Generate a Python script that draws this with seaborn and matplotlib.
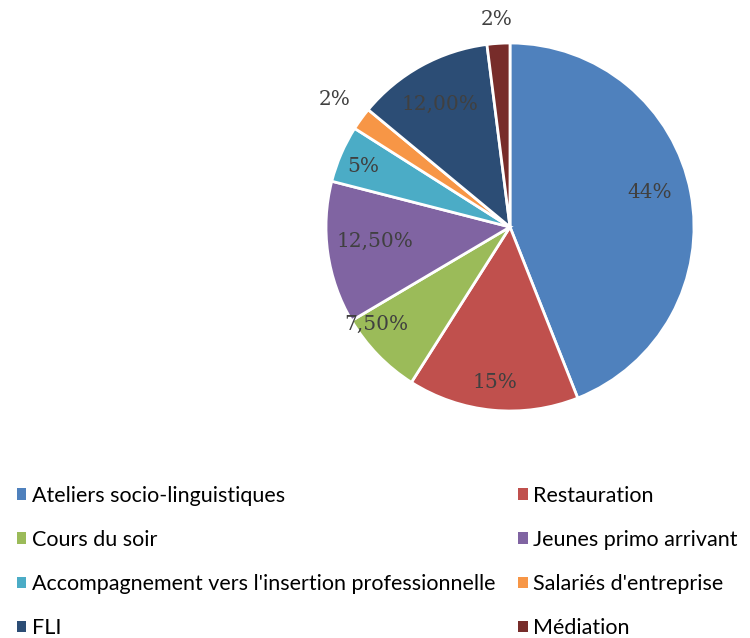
import numpy as np
import matplotlib
matplotlib.use("Agg")
import matplotlib.pyplot as plt
import seaborn as sns
from matplotlib.patches import Patch

categories = ["Ateliers socio-linguistiques", "Restauration", "Cours du soir",
              "Jeunes primo arrivant", "Accompagnement vers l'insertion professionnelle",
              "Salariés d'entreprise", "FLI", "Médiation"]
values = [44, 15, 7.5, 12.5, 5, 2, 12, 2]
value_labels = ["44%", "15%", "7,50%", "12,50%", "5%", "2%", "12,00%", "2%"]
colors = ["#4F81BD", "#C0504D", "#9BBB59", "#8064A2", "#4BACC6", "#F79646", "#2C4D75", "#772C2A"]

# label placement (distance from centre, as fraction of radius)
label_dist = [0.78, 0.85, 0.9, 0.74, 0.86, 1.18, 0.77, 1.13]
label_shift = [3, 0, -8, -2, 1, 0, 1, 0]   # degrees

sns.set_theme(style="white")
plt.rcParams['font.family'] = ['Lato', 'DejaVu Sans']

fig = plt.figure(figsize=(7.5, 6.38), dpi=100)
W, H = 750, 638
cx, cy, r = 510, 227, 184
ax = fig.add_axes([(cx - r) / W, (H - cy - r) / H, 2 * r / W, 2 * r / H])

wedges, _ = ax.pie(values, colors=colors, startangle=90, counterclock=False,
                   wedgeprops=dict(edgecolor="white", linewidth=2))
ax.set_xlim(-1, 1)
ax.set_ylim(-1, 1)
ax.set_aspect("equal")
ax.axis("off")

for w, lab, d, s in zip(wedges, value_labels, label_dist, label_shift):
    ang = np.deg2rad((w.theta1 + w.theta2) / 2 + s)
    ax.text(d * np.cos(ang), d * np.sin(ang), lab, ha="center", va="center",
            fontsize=14.5, color="#404040", family=["DejaVu Serif"])

# legend filled row by row, like the original
order = [0, 2, 4, 6, 1, 3, 5, 7]
handles = [Patch(facecolor=colors[i], edgecolor="none") for i in order]
labels = [categories[i] for i in order]
fig.legend(handles, labels, loc="upper left", bbox_to_anchor=(6 / W, 1 - 475 / H),
           ncol=2, frameon=False, fontsize=15.5, handlelength=0.45, handleheight=0.45,
           handletextpad=0.25, columnspacing=1.05, labelspacing=1.12, borderpad=0,
           labelcolor="#000000")

fig.savefig("out.png", dpi=100)
